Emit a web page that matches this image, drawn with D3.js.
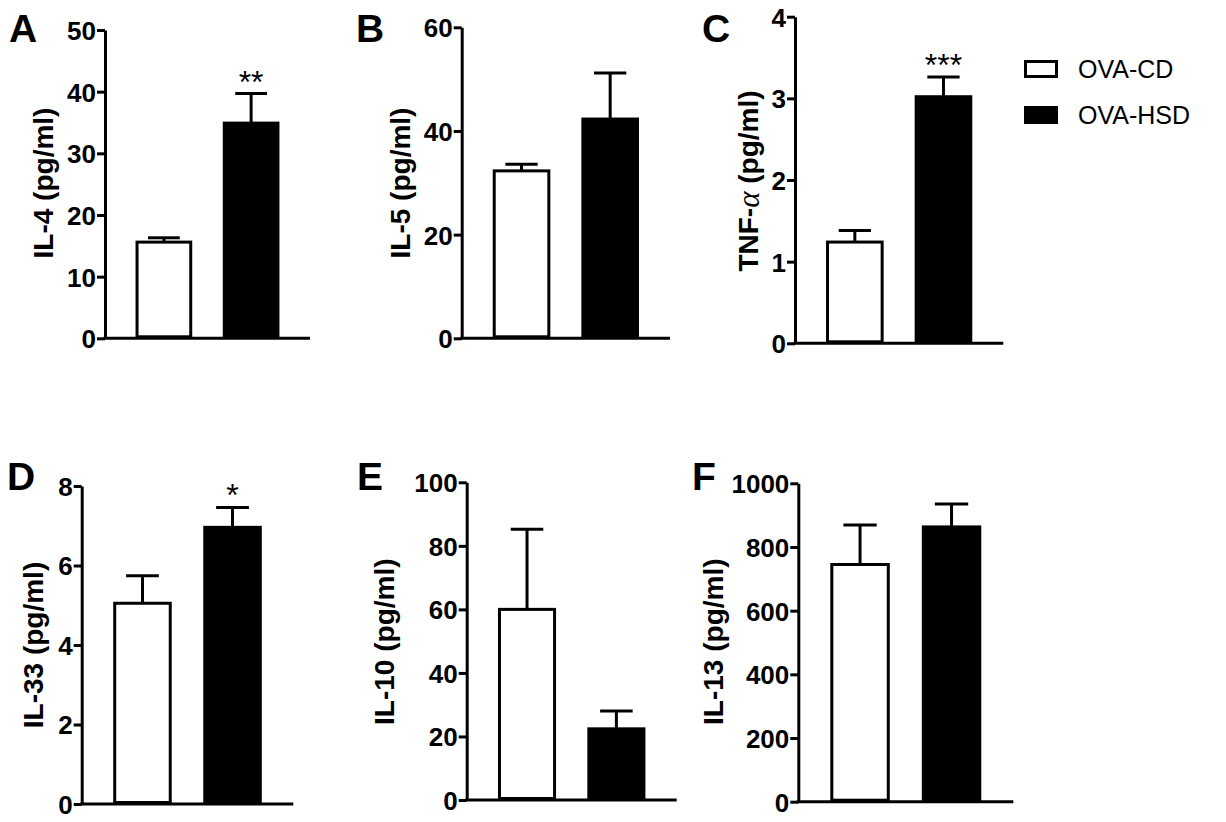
<!DOCTYPE html>
<html>
<head>
<meta charset="utf-8">
<script src="https://cdn.jsdelivr.net/npm/d3@7"></script>
<style>
  body { margin: 0; background: #fff; }
  svg { display: block; font-family: "Liberation Sans", Arial, sans-serif; }
</style>
</head>
<body>
<svg id="chart" width="1226" height="822"></svg>
<script>
// values (mean and upward SEM)
const panelLetters = ["A", "B", "C", "D", "E", "F"];
const yTitles = ["IL-4 (pg/ml)", "IL-5 (pg/ml)", "TNF-α (pg/ml)", "IL-33 (pg/ml)", "IL-10 (pg/ml)", "IL-13 (pg/ml)"];
const groups = ["OVA-CD", "OVA-HSD"];
const cdMean = [15.6, 32.3, 1.24, 5.05, 60.0, 745];
const cdSem = [0.7, 1.3, 0.14, 0.69, 25.2, 124];
const hsdMean = [34.9, 42.3, 3.02, 6.96, 22.4, 863];
const hsdSem = [4.8, 8.9, 0.24, 0.50, 5.6, 72];
const yMax = [50, 60, 4, 8, 100, 1000];
const tickStep = [10, 20, 1, 2, 20, 200];
const hsdStars = ["**", "", "***", "*", "", ""];

// where each panel sits on the page
const frames = [
  { x: 105, top: 30, bottom: 338.3, right: 310, titleX: 43, titleY: 183, letterX: 9, letterY: 42 },
  { x: 461.7, top: 27.3, bottom: 338.3, right: 670, titleX: 400, titleY: 183, letterX: 356, letterY: 42 },
  { x: 795, top: 16.7, bottom: 343.3, right: 1003.3, titleX: 748, titleY: 181, letterX: 702, letterY: 42 },
  { x: 81.7, top: 486, bottom: 804, right: 293.3, titleX: 33, titleY: 645, letterX: 7, letterY: 490 },
  { x: 466.7, top: 482.3, bottom: 800, right: 676.7, titleX: 384, titleY: 641.7, letterX: 357, letterY: 490 },
  { x: 798.3, top: 483.3, bottom: 801.7, right: 1013.3, titleX: 713, titleY: 641.7, letterX: 692, letterY: 490 },
];

const svg = d3.select("#chart");
const lw = 3;

panelLetters.forEach((letter, i) => {
  const f = frames[i];
  const g = svg.append("g");

  const y = d3.scaleLinear().domain([0, yMax[i]]).range([f.bottom, f.top]);
  const x = d3.scaleBand().domain(groups).range([f.x, f.right]).padding(0.35);

  const ticks = d3.range(0, yMax[i] + tickStep[i] / 2, tickStep[i]);
  const yAxis = g.append("g")
    .attr("transform", `translate(${f.x},0)`)
    .call(d3.axisLeft(y).tickValues(ticks).tickFormat(d3.format("d"))
      .tickSize(8).tickSizeOuter(0).tickPadding(1));
  yAxis.attr("font-size", 26).attr("font-family", null).attr("font-weight", "bold");
  yAxis.select(".domain").attr("stroke", "#000").attr("stroke-width", lw);
  yAxis.selectAll(".tick line").attr("stroke", "#000").attr("stroke-width", lw);
  yAxis.selectAll(".tick text")
    .attr("fill", "#000")
    .attr("dy", "0.36em");

  // x baseline
  g.append("line")
    .attr("x1", f.x - lw / 2).attr("x2", f.right)
    .attr("y1", y(0)).attr("y2", y(0))
    .attr("stroke", "#000").attr("stroke-width", lw);

  const rows = [
    { grp: groups[0], mean: cdMean[i], sem: cdSem[i], fill: "#fff", star: "" },
    { grp: groups[1], mean: hsdMean[i], sem: hsdSem[i], fill: "#000", star: hsdStars[i] },
  ];

  const bw = x.bandwidth();
  const bars = g.selectAll(".bar").data(rows).enter().append("g");

  bars.append("line")
    .attr("x1", (d) => x(d.grp) + bw / 2).attr("x2", (d) => x(d.grp) + bw / 2)
    .attr("y1", (d) => y(d.mean)).attr("y2", (d) => y(d.mean + d.sem))
    .attr("stroke", "#000").attr("stroke-width", lw);
  bars.append("line")
    .attr("x1", (d) => x(d.grp) + bw * 0.22).attr("x2", (d) => x(d.grp) + bw * 0.78)
    .attr("y1", (d) => y(d.mean + d.sem)).attr("y2", (d) => y(d.mean + d.sem))
    .attr("stroke", "#000").attr("stroke-width", lw);
  bars.append("rect")
    .attr("x", (d) => x(d.grp) + lw / 2)
    .attr("y", (d) => y(d.mean))
    .attr("width", bw - lw)
    .attr("height", (d) => y(0) - y(d.mean) - lw / 2)
    .attr("fill", (d) => d.fill)
    .attr("stroke", "#000").attr("stroke-width", lw);
  bars.filter((d) => d.star).append("text")
    .attr("x", (d) => x(d.grp) + bw / 2)
    .attr("y", (d) => y(d.mean + d.sem) - 1)
    .attr("text-anchor", "middle")
    .attr("font-size", 32)
    .text((d) => d.star);

  // y title
  const t = g.append("text")
    .attr("transform", `translate(${f.titleX},${f.titleY}) rotate(-90)`)
    .attr("text-anchor", "middle")
    .attr("dominant-baseline", "central")
    .attr("font-size", 28)
    .attr("font-weight", "bold");
  if (yTitles[i].includes("α")) {
    const [a, b] = yTitles[i].split("α");
    t.append("tspan").text(a);
    t.append("tspan").attr("font-weight", "normal").attr("font-family", "'Liberation Serif', serif")
      .attr("font-style", "italic").attr("font-size", 31).text("α");
    t.append("tspan").text(b);
  } else {
    t.text(yTitles[i]);
  }

  g.append("text")
    .attr("x", f.letterX).attr("y", f.letterY)
    .attr("font-size", 39)
    .attr("font-weight", "bold")
    .text(letter);
});

// legend
const legend = svg.append("g").attr("transform", "translate(1024,60)");
groups.forEach((name, k) => {
  legend.append("rect")
    .attr("x", lw / 2).attr("y", k * 46 + lw / 2)
    .attr("width", 34 - lw).attr("height", 18 - lw)
    .attr("fill", k ? "#000" : "#fff")
    .attr("stroke", "#000").attr("stroke-width", lw);
  legend.append("text")
    .attr("x", 54).attr("y", k * 46 + 9)
    .attr("dominant-baseline", "central")
    .attr("font-size", 25)
    .text(name);
});
</script>
</body>
</html>
